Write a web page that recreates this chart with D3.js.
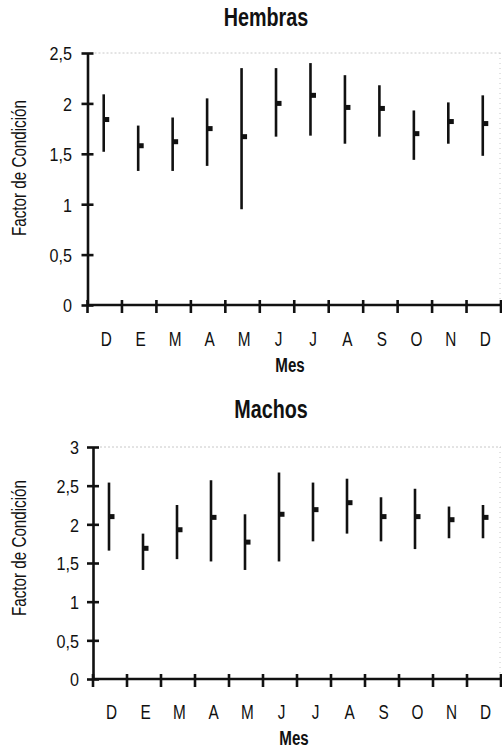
<!DOCTYPE html>
<html><head><meta charset="utf-8">
<script src="https://cdn.jsdelivr.net/npm/d3@7/dist/d3.min.js"></script>
<style>
html,body{margin:0;padding:0;background:#fff;}
svg text{font-family:"Liberation Sans",Arial,Helvetica,sans-serif;fill:#111;}
</style></head>
<body><svg id="c" width="502" height="750"></svg>
<script>
const months = ["D","E","M","A","M","J","J","A","S","O","N","D"];
// Hembras
const hMean = [1.84,1.58,1.62,1.75,1.67,2.00,2.08,1.96,1.95,1.70,1.82,1.80];
const hHigh = [2.09,1.78,1.86,2.05,2.35,2.35,2.40,2.28,2.18,1.93,2.01,2.08];
const hLow  = [1.52,1.33,1.33,1.38,0.95,1.67,1.68,1.60,1.67,1.44,1.60,1.48];
const hTicks = [0,0.5,1,1.5,2,2.5];
// Machos
const mMean = [2.10,1.69,1.93,2.09,1.77,2.13,2.19,2.28,2.10,2.10,2.06,2.09];
const mHigh = [2.54,1.88,2.25,2.57,2.13,2.67,2.54,2.59,2.35,2.46,2.23,2.25];
const mLow  = [1.66,1.41,1.55,1.52,1.41,1.52,1.78,1.88,1.78,1.68,1.82,1.82];
const mTicks = [0,0.5,1,1.5,2,2.5,3];

const svg = d3.select("#c");
const fmt = v => String(v).replace(".", ",");

function txt(parent, x, y, s, size, sx, anchor, bold, rot){
  return parent.append("text")
    .attr("transform", `translate(${x},${y})` + (rot ? ` rotate(${rot})` : "") + ` scale(${sx},1)`)
    .attr("text-anchor", anchor || "middle")
    .style("font-size", size + "px")
    .style("font-weight", bold ? "bold" : "normal")
    .text(s);
}

function panel(cfg){
  const g = svg.append("g");
  const idx = d3.range(months.length);
  const x = d3.scaleBand().domain(idx).range([cfg.x0, cfg.x1]);
  const y = d3.scaleLinear().domain([0, cfg.max]).range([cfg.y0, cfg.y1]);

  // faint frame (top & right dotted)
  g.append("line").attr("x1",cfg.x0+7).attr("x2",cfg.x1).attr("y1",y(cfg.max)).attr("y2",y(cfg.max))
    .attr("stroke","#c8c8c8").attr("stroke-width",1).attr("stroke-dasharray","2,2");
  g.append("line").attr("x1",cfg.x1-1).attr("x2",cfg.x1-1).attr("y1",y(cfg.max)).attr("y2",cfg.y0)
    .attr("stroke","#c8c8c8").attr("stroke-width",1).attr("stroke-dasharray","1,4");

  // y axis
  const ya = d3.axisLeft(y).tickValues(cfg.ticks).tickFormat(fmt).tickSize(0).tickPadding(0);
  const yg = g.append("g").attr("transform",`translate(${cfg.x0},0)`).call(ya);
  yg.select(".domain").attr("stroke","#111").attr("stroke-width",2.6);
  yg.selectAll(".tick text").attr("x",0).attr("dy","0.36em")
    .attr("transform",`translate(${cfg.lblOff},0) scale(0.85,1)`)
    .style("font-size","19px").attr("fill","#111");
  yg.selectAll(".tick").append("line").attr("x1",-6).attr("x2",6).attr("stroke","#111").attr("stroke-width",2.6);

  // x axis with ticks at band boundaries
  const bounds = idx.map(i => x(i)).concat([cfg.x1]);
  g.append("line").attr("x1",cfg.x0).attr("x2",cfg.x1).attr("y1",cfg.y0).attr("y2",cfg.y0)
    .attr("stroke","#111").attr("stroke-width",2.6);
  g.selectAll(".xt").data(bounds).join("line").attr("class","xt")
    .attr("x1",d=>d).attr("x2",d=>d).attr("y1",cfg.y0-5).attr("y2",cfg.y0+8)
    .attr("stroke","#111").attr("stroke-width",2.6);
  idx.forEach(i => txt(g, x(i)+x.bandwidth()/2+1.5, cfg.y0+cfg.xlDy, months[i], 21, 0.73));

  // error bars
  const bx = i => x(i)+x.bandwidth()/2-1;
  g.selectAll(".eb").data(idx).join("line").attr("class","eb")
    .attr("x1",bx).attr("x2",bx).attr("y1",i=>y(cfg.high[i])).attr("y2",i=>y(cfg.low[i]))
    .attr("stroke","#111").attr("stroke-width",2.6);
  g.selectAll(".mk").data(idx).join("rect").attr("class","mk")
    .attr("x",i=>bx(i)).attr("y",i=>y(cfg.mean[i])-2.5).attr("width",5.5).attr("height",5)
    .attr("fill","#111");

  // titles
  txt(g, cfg.tx, cfg.ty, cfg.title, 25, 0.79, "middle", true);
  txt(g, cfg.mx, cfg.y0+cfg.mesDy, "Mes", 21, 0.72, "middle", true);
  txt(g, 26, cfg.ly, "Factor de Condición", 20, 0.76, "middle", false, -90);
}

panel({title:"Hembras", tx:266, ty:26, x0:87.5, x1:501, y0:305, y1:53, max:2.5,
  ticks:hTicks, mean:hMean, high:hHigh, low:hLow, ly:168, lblOff:-15.5, xlDy:41, mesDy:67, mx:290});
panel({title:"Machos", tx:271, ty:418, x0:93, x1:501, y0:679, y1:447, max:3,
  ticks:mTicks, mean:mMean, high:mHigh, low:mLow, ly:548, lblOff:-14, xlDy:40, mesDy:66, mx:294});
</script></body></html>
